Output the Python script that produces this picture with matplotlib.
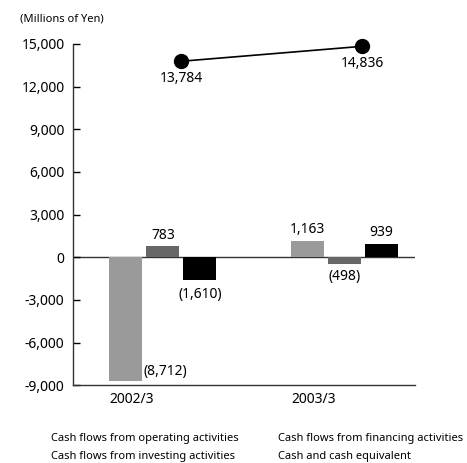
import matplotlib
matplotlib.use("Agg")
import matplotlib.pyplot as plt
import numpy as np

plt.rcParams['font.family'] = ['Noto Sans', 'DejaVu Sans']

years = ["2002/3", "2003/3"]
operating = [-8712, 1163]
investing = [783, -498]
financing = [-1610, 939]
cash_equiv = [13784, 14836]

op_labels = ["(8,712)", "1,163"]
inv_labels = ["783", "(498)"]
fin_labels = ["(1,610)", "939"]
cash_labels = ["13,784", "14,836"]

yticks = np.arange(-9000, 15001, 3000)

fig = plt.figure(figsize=(4.67, 4.63), dpi=100)
ax = fig.add_axes([0.156, 0.168, 0.733, 0.737])

x = np.arange(len(years))
w = 0.182
off = 0.204

ax.bar(x - off, operating, w, color="#9a9a9a", zorder=2)
ax.bar(x, investing, w, color="#676767", zorder=2)
ax.bar(x + off, financing, w, color="#000000", zorder=2)
ax.plot(x + 0.1, cash_equiv, color="black", lw=1.2, marker="o", ms=10,
        zorder=3, clip_on=False)

ax.axhline(0, color="#333333", lw=1.0, zorder=1)

fs = 10
# operating labels
ax.text(x[0] - off + w / 2 + 0.005, operating[0] + 150, op_labels[0], ha="left", va="bottom", fontsize=fs)
ax.text(x[1] - off, operating[1] + 250, op_labels[1], ha="center", va="bottom", fontsize=fs)
# investing labels
ax.text(x[0], investing[0] + 250, inv_labels[0], ha="center", va="bottom", fontsize=fs)
ax.text(x[1], investing[1] - 350, inv_labels[1], ha="center", va="top", fontsize=fs)
# financing labels
ax.text(x[0] + off, financing[0] - 450, fin_labels[0], ha="center", va="top", fontsize=fs)
ax.text(x[1] + off, financing[1] + 250, fin_labels[1], ha="center", va="bottom", fontsize=fs)
# cash labels
for i in range(len(years)):
    ax.text(x[i] + 0.1, cash_equiv[i] - 700, cash_labels[i], ha="center", va="top", fontsize=fs)

ax.set_ylim(-9000, 15000)
ax.set_xlim(-0.497, 1.392)
ax.set_yticks(yticks)
ax.set_yticklabels([f"{v:,}" for v in yticks], fontsize=fs)
ax.tick_params(axis="y", direction="in", length=5, width=1, pad=6)
ax.set_xticks(x - 0.17)
ax.set_xticklabels(years, fontsize=fs)
ax.tick_params(axis="x", length=0, pad=5)

for s in ["top", "right"]:
    ax.spines[s].set_visible(False)
for s in ["left", "bottom"]:
    ax.spines[s].set_linewidth(1.0)
    ax.spines[s].set_color("#333333")

fig.text(0.042, 0.959, "(Millions of Yen)", fontsize=8, ha="left", va="center")

leg_fs = 8
fig.text(0.109, 1 - 439 / 463, "Cash flows from operating activities", fontsize=leg_fs, va="center")
fig.text(0.109, 1 - 456 / 463, "Cash flows from investing activities", fontsize=leg_fs, va="center")
fig.text(0.595, 1 - 439 / 463, "Cash flows from financing activities", fontsize=leg_fs, va="center")
fig.text(0.595, 1 - 456 / 463, "Cash and cash equivalent", fontsize=leg_fs, va="center")

fig.savefig("out.png", dpi=100)
